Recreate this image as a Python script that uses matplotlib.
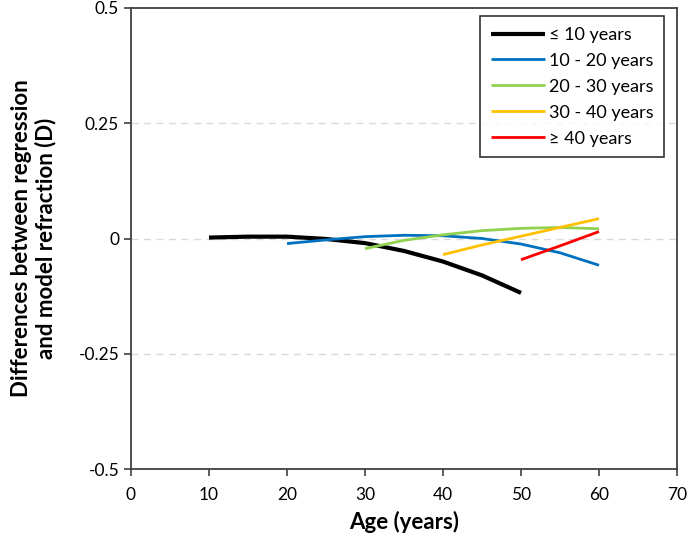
import matplotlib
matplotlib.use("Agg")
import matplotlib.pyplot as plt

plt.rcParams['font.family'] = ['Lato', 'DejaVu Sans']

age_10 = [10, 15, 20, 25, 30, 35, 40, 45, 50]
diff_10 = [0.002, 0.004, 0.004, -0.001, -0.010, -0.027, -0.050, -0.080, -0.118]
age_20 = [20, 25, 30, 35, 40, 45, 50, 55, 60]
diff_20 = [-0.011, -0.003, 0.004, 0.007, 0.006, 0.000, -0.012, -0.031, -0.058]
age_30 = [30, 35, 40, 45, 50, 55, 60]
diff_30 = [-0.022, -0.004, 0.008, 0.017, 0.022, 0.024, 0.021]
age_40 = [40, 45, 50, 55, 60]
diff_40 = [-0.035, -0.014, 0.005, 0.024, 0.043]
age_50 = [50, 55, 60]
diff_50 = [-0.046, -0.016, 0.015]

labels = ['≤ 10 years', '10 - 20 years', '20 - 30 years', '30 - 40 years', '≥ 40 years']
colors = ['#000000', '#0070C0', '#92D050', '#FFC000', '#FF0000']
widths = [3.0, 2.0, 2.0, 2.0, 2.0]

fig = plt.figure(figsize=(6.88, 5.41), dpi=100)
ax = fig.add_axes([131/688, 1 - 469/541, (677-131)/688, (469-8)/541])

series = [(age_10, diff_10), (age_20, diff_20), (age_30, diff_30), (age_40, diff_40), (age_50, diff_50)]
for (x, y), lab, c, w in zip(series, labels, colors, widths):
    ax.plot(x, y, color=c, lw=w, label=lab, solid_capstyle='butt')

ax.set_xlim(0, 70)
ax.set_ylim(-0.5, 0.5)
ax.set_xticks(range(0, 71, 10))
ax.set_yticks([-0.5, -0.25, 0, 0.25, 0.5])
ax.set_yticklabels(['-0.5', '-0.25', '0', '0.25', '0.5'])
for yv in [-0.25, 0, 0.25]:
    ax.axhline(yv, color='#d9d9d9', lw=1, ls=(0, (5, 4)), zorder=0)

for s in ax.spines.values():
    s.set_color('#404040')
    s.set_linewidth(1.3)
ax.tick_params(axis='both', direction='out', length=5, width=1.2, color='#404040',
               labelsize=12.5, labelcolor='#000000')
ax.tick_params(axis='x', pad=8)

ax.set_xlabel('Age (years)', fontsize=16, fontweight='bold', labelpad=6)
ax.set_ylabel('Differences between regression\nand model refraction (D)', fontsize=16,
              fontweight='bold', labelpad=16, linespacing=1.15)

leg = ax.legend(loc='upper right', bbox_to_anchor=(1 - 13/546, 1 - 8/461), fontsize=13,
                frameon=True, fancybox=False, edgecolor='#000000', handlelength=3.0,
                handletextpad=0.2, borderpad=0.6, labelspacing=0.55, borderaxespad=0)
leg.get_frame().set_linewidth(1.2)

fig.savefig('out.png', dpi=100)
